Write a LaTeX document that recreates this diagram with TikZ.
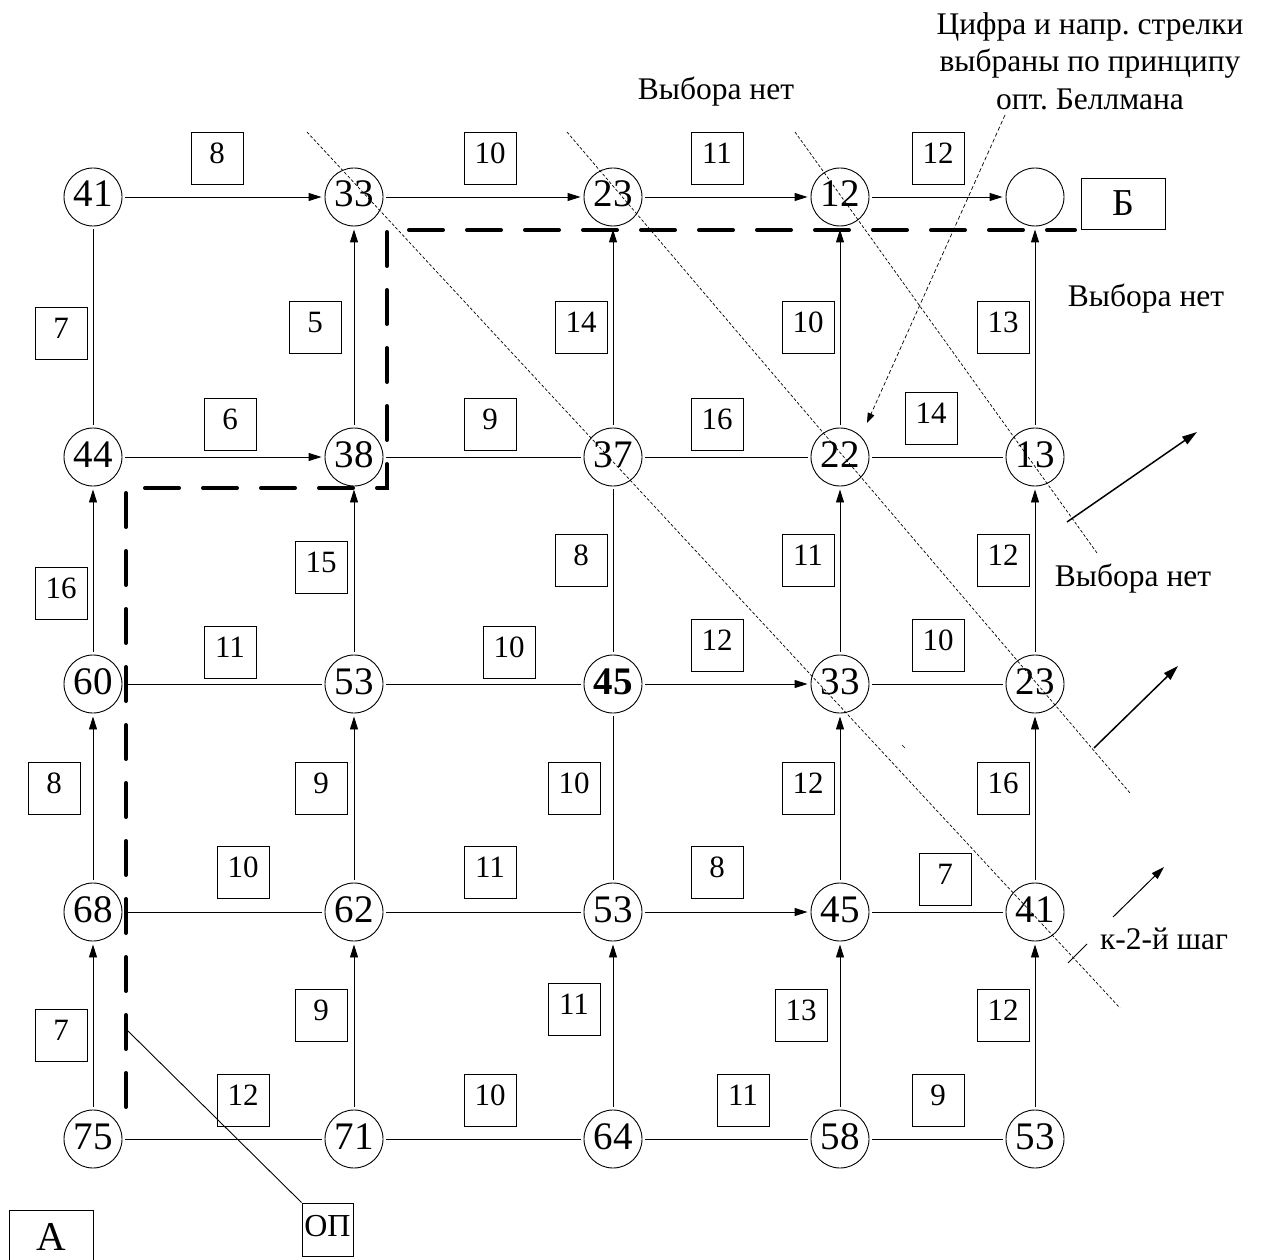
\documentclass[tikz,border=0pt]{standalone}
\usepackage{fontspec}
\setmainfont{Liberation Serif}
\usetikzlibrary{arrows.meta}
\frenchspacing
\tikzset{
  num/.style={circle, draw, line width=0.9pt, minimum size=58pt, inner sep=0pt,
    font=\fontsize{39}{42}\selectfont, text height=27pt, text depth=7pt},
  wt/.style={draw, line width=0.9pt, minimum width=52pt, minimum height=52pt, inner sep=0pt,
    font=\fontsize{31}{34}\selectfont, text height=21pt, text depth=10pt},
  edgeline/.style={line width=0.9pt, shorten <=3pt, shorten >=3pt},
  arr/.style={edgeline, -{Triangle[length=13pt,width=8pt]}},
  diag/.style={line width=0.7pt, dash pattern=on 3pt off 2pt},
  optpath/.style={line width=4pt, dash pattern=on 34pt off 24pt, line cap=round},
  note/.style={font=\fontsize{31.5}{37}\selectfont, anchor=base, inner sep=0pt},
  steparrow/.style={line width=1.5pt, -{Triangle[length=15pt,width=9pt]}},
}
\begin{document}
\begin{tikzpicture}[x=1pt,y=-1pt]
\useasboundingbox (0,0) rectangle (1262,1260);
% ---------- grid nodes ----------
\node[num] (n11) at (93,197) {41};
\node[num] (n12) at (354,197) {33};
\node[num] (n13) at (613,197) {23};
\node[num] (n14) at (840,197) {12};
\node[num] (n15) at (1035,197) {};
\node[num] (n21) at (93,457) {44};
\node[num] (n22) at (354,457) {38};
\node[num] (n23) at (613,457) {37};
\node[num] (n24) at (840,457) {22};
\node[num] (n25) at (1035,457) {13};
\node[num] (n31) at (93,684) {60};
\node[num] (n32) at (354,684) {53};
\node[num] (n33) at (613,684) {\bfseries 45};
\node[num] (n34) at (840,684) {33};
\node[num] (n35) at (1035,684) {23};
\node[num] (n41) at (93,912) {68};
\node[num] (n42) at (354,912) {62};
\node[num] (n43) at (613,912) {53};
\node[num] (n44) at (840,912) {45};
\node[num] (n45) at (1035,912) {41};
\node[num] (n51) at (93,1139) {75};
\node[num] (n52) at (354,1139) {71};
\node[num] (n53) at (613,1139) {64};
\node[num] (n54) at (840,1139) {58};
\node[num] (n55) at (1035,1139) {53};
% ---------- horizontal connectors ----------
\draw[arr] (n11) -- (n12);
\draw[arr] (n12) -- (n13);
\draw[arr] (n13) -- (n14);
\draw[arr] (n14) -- (n15);
\draw[arr] (n21) -- (n22);
\draw[edgeline] (n22) -- (n23);
\draw[edgeline] (n23) -- (n24);
\draw[edgeline] (n24) -- (n25);
\draw[edgeline] (n31) -- (n32);
\draw[edgeline] (n32) -- (n33);
\draw[arr] (n33) -- (n34);
\draw[edgeline] (n34) -- (n35);
\draw[edgeline] (n41) -- (n42);
\draw[edgeline] (n42) -- (n43);
\draw[arr] (n43) -- (n44);
\draw[edgeline] (n44) -- (n45);
\draw[edgeline] (n51) -- (n52);
\draw[edgeline] (n52) -- (n53);
\draw[edgeline] (n53) -- (n54);
\draw[edgeline] (n54) -- (n55);
% ---------- vertical connectors ----------
\draw[arr] (n51) -- (n41);
\draw[arr] (n41) -- (n31);
\draw[arr] (n31) -- (n21);
\draw[edgeline] (n21) -- (n11);
\draw[arr] (n52) -- (n42);
\draw[arr] (n42) -- (n32);
\draw[arr] (n32) -- (n22);
\draw[arr] (n22) -- (n12);
\draw[arr] (n53) -- (n43);
\draw[edgeline] (n43) -- (n33);
\draw[edgeline] (n33) -- (n23);
\draw[arr] (n23) -- (n13);
\draw[arr] (n54) -- (n44);
\draw[arr] (n44) -- (n34);
\draw[arr] (n34) -- (n24);
\draw[arr] (n24) -- (n14);
\draw[arr] (n55) -- (n45);
\draw[arr] (n45) -- (n35);
\draw[arr] (n35) -- (n25);
\draw[arr] (n25) -- (n15);
% ---------- weights ----------
\node[wt] (w1) at (217,158) {8};
\node[wt] (w2) at (490,158) {10};
\node[wt] (w3) at (717,158) {11};
\node[wt] (w4) at (938,158) {12};
\node[wt] (w5) at (61,333) {7};
\node[wt] (w6) at (315,327) {5};
\node[wt] (w7) at (581,327) {14};
\node[wt] (w8) at (808,327) {10};
\node[wt] (w9) at (1003,327) {13};
\node[wt] (w10) at (230,424) {6};
\node[wt] (w11) at (490,424) {9};
\node[wt] (w12) at (717,424) {16};
\node[wt] (w13) at (931,418) {14};
\node[wt] (w14) at (61,593) {16};
\node[wt] (w15) at (321,567) {15};
\node[wt] (w16) at (581,560) {8};
\node[wt] (w17) at (808,560) {11};
\node[wt] (w18) at (1003,560) {12};
\node[wt] (w19) at (230,652) {11};
\node[wt] (w20) at (509,652) {10};
\node[wt] (w21) at (717,645) {12};
\node[wt] (w22) at (938,645) {10};
\node[wt] (w23) at (54,788) {8};
\node[wt] (w24) at (321,788) {9};
\node[wt] (w25) at (574,788) {10};
\node[wt] (w26) at (808,788) {12};
\node[wt] (w27) at (1003,788) {16};
\node[wt] (w28) at (243,872) {10};
\node[wt] (w29) at (490,872) {11};
\node[wt] (w30) at (717,872) {8};
\node[wt] (w31) at (945,879) {7};
\node[wt] (w32) at (61,1035) {7};
\node[wt] (w33) at (321,1015) {9};
\node[wt] (w34) at (574,1009) {11};
\node[wt] (w35) at (801,1015) {13};
\node[wt] (w36) at (1003,1015) {12};
\node[wt] (w37) at (243,1100) {12};
\node[wt] (w38) at (490,1100) {10};
\node[wt] (w39) at (743,1100) {11};
\node[wt] (w40) at (938,1100) {9};
% ---------- end boxes ----------
\node[draw, line width=0.9pt, minimum width=84pt, minimum height=51pt, inner sep=0pt,
  font=\fontsize{38}{40}\selectfont, text height=25pt, text depth=0pt] (B) at (1123,203.5) {Б};
\node[draw, line width=0.9pt, minimum width=84pt, minimum height=64pt, inner sep=0pt,
  font=\fontsize{41}{43}\selectfont, text height=28pt, text depth=12pt] (A) at (51,1242) {А};
\node[draw, line width=0.9pt, minimum width=51pt, minimum height=53pt, inner sep=0pt,
  font=\fontsize{32}{34}\selectfont, text height=21pt, text depth=8pt] (OP) at (327.5,1229.5) {ОП};
% ---------- diagonal step lines ----------
\draw[diag] (307,132) -- (1120,1008);
\draw[diag] (567,132) -- (1130,793);
\draw[diag] (795,132) -- (1097,553);
\draw[line width=0.6pt] (902,745) -- (905,748);
% ---------- optimal path ----------
\draw[optpath] (126,1107) -- (126,488) -- (387,488) -- (387,230) -- (1075,230);
\coordinate (opL) at (127,1030);
\draw[line width=0.9pt] (opL) -- (OP.north west);
% ---------- annotations ----------
\node[note] (t1) at (716,100) {Выбора нет};
\node[note] (t2) at (1146,306) {Выбора нет};
\node[note] (t3) at (1133,586) {Выбора нет};
\node[note] (t4) at (1164,949) {к-2-й шаг};
\node[note] (b1) at (1090,35) {Цифра и напр. стрелки};
\node[note] (b2) at (1090,72) {выбраны по принципу};
\node[note] (b3) at (1090,110) {опт. Беллмана};
\coordinate (bpS) at (1005,115);
\coordinate (bpE) at (867,423);
\draw[line width=0.7pt, dash pattern=on 4pt off 2.5pt, -{Triangle[length=10pt,width=7pt]}] (bpS) -- (bpE);
% ---------- step arrows ----------
\coordinate (s1a) at (1067,522);
\coordinate (s1b) at (1197,432);
\draw[steparrow] (s1a) -- (s1b);
\coordinate (s2a) at (1094,748);
\coordinate (s2b) at (1178,666);
\draw[steparrow] (s2a) -- (s2b);
\coordinate (s3a) at (1068,963);
\coordinate (s3b) at (1087,944);
\coordinate (s3c) at (1113,917);
\coordinate (s3d) at (1164,867);
\draw[line width=1pt] (s3a) -- (s3b);
\draw[line width=1pt, -{Triangle[length=13pt,width=8pt]}] (s3c) -- (s3d);
\end{tikzpicture}
\end{document}
